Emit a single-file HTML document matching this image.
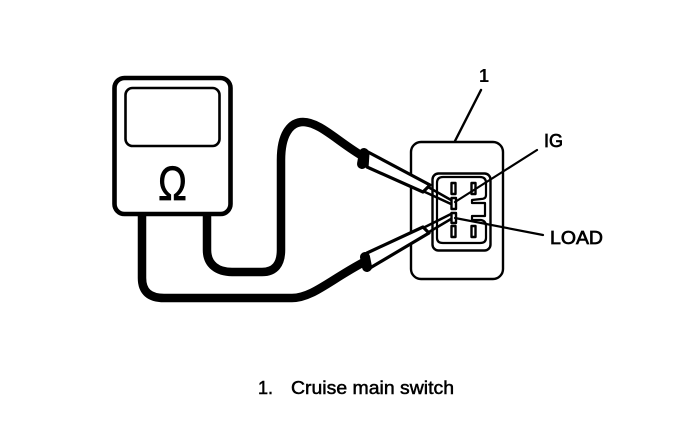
<!DOCTYPE html>
<html><head><meta charset="utf-8"><style>
html,body{margin:0;padding:0;background:#fff;width:688px;height:448px;overflow:hidden}
svg{display:block}
text{font-family:"Liberation Sans",sans-serif;fill:#000}
</style></head><body>
<svg width="688" height="448" viewBox="0 0 688 448" xmlns="http://www.w3.org/2000/svg">
<g fill="none" stroke="#000" stroke-linecap="round" stroke-linejoin="round">
<!-- meter -->
<rect x="114.5" y="78" width="116" height="136" rx="10" stroke-width="4.6"/>
<rect x="125.5" y="88" width="94" height="58" rx="7" stroke-width="2.6"/>
<!-- wires -->
<path d="M142 216V278C142 292 150 298 164 298H292C312 298 330 280 364 262" stroke-width="8.5" stroke-linecap="butt"/>
<path d="M207 216V250C207 265 218 272 232 272H262C275 272 281 264 281 250V160C281 135 290 122 303 122C320 122 338 142 364 157" stroke-width="8.5" stroke-linecap="butt"/>
<!-- switch -->
<rect x="411" y="142" width="92" height="137" rx="10" stroke-width="2.4" fill="#fff"/>
<rect x="432.5" y="173.5" width="58" height="77" rx="6" stroke-width="2.4"/>
<path d="M443 177H480Q486 177 486 183V195Q486 199 481 199L472 200V203H485V216H472V220L481 220Q486 221 486 226V238Q486 243 480 243H443Q437 243 437 238V183Q437 177 443 177Z" stroke-width="2.2"/>
<!-- pins -->
<g stroke-width="2.4" fill="#fff">
<rect x="451.5" y="183" width="4" height="11"/>
<rect x="471.5" y="183" width="4" height="11"/>
<rect x="451.5" y="198" width="4.5" height="11"/>
<rect x="451.5" y="213" width="4.5" height="10"/>
<rect x="451.5" y="226" width="4" height="11"/>
<rect x="471.5" y="226" width="4" height="11"/>
</g>
<!-- probes -->
<path d="M368 152L430 185L423 192L367 167Z" stroke-width="3.2" fill="#fff"/>
<path d="M364 153L362 164" stroke-width="10"/>
<path d="M428 187L451 200M425 192L451 204" stroke-width="2.6"/>
<path d="M367 253L423 227L429 233L370 268Z" stroke-width="3.2" fill="#fff"/>
<path d="M365 257L367 267" stroke-width="10"/>
<path d="M425 227L451 214M429 232L451 219" stroke-width="2.6"/>
<!-- leaders -->
<path d="M481 90L455 141" stroke-width="2.4"/>
<path d="M537 150L455 202" stroke-width="2.2"/>
<path d="M455 218L543 235" stroke-width="2.2"/>
</g>
<text transform="translate(172.5 200) scale(.8 1)" font-size="48" text-anchor="middle" stroke="#000" stroke-width=".8">Ω</text>
<text x="479" y="82" font-size="18" font-weight="bold">1</text>
<text x="544" y="147" font-size="18" stroke="#000" stroke-width=".7" textLength="19" lengthAdjust="spacingAndGlyphs">IG</text>
<text x="550" y="244" font-size="18" stroke="#000" stroke-width=".7" textLength="53" lengthAdjust="spacingAndGlyphs">LOAD</text>
<text x="258" y="394" font-size="18" stroke="#000" stroke-width=".5">1.</text>
<text x="291" y="394" font-size="18" stroke="#000" stroke-width=".5" textLength="163" lengthAdjust="spacingAndGlyphs">Cruise main switch</text>
</svg>
</body></html>
